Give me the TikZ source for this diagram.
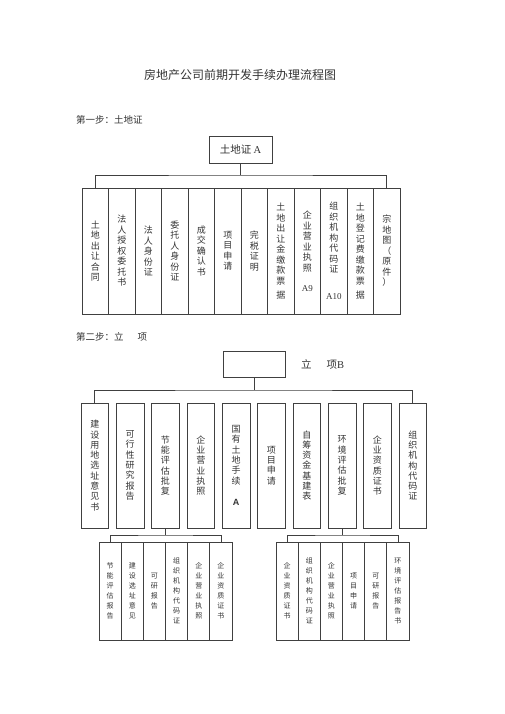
\documentclass[tikz,border=0pt]{standalone}
\usepackage{fontspec}
\setmainfont{Noto Sans CJK SC}
\newfontfamily\latn{Liberation Serif}
\newfontfamily\lsans{Liberation Sans}
\usetikzlibrary{shadows}

\tikzset{
    box/.style={draw=black!75, line width=0.7pt, inner sep=0pt, align=center, text=black!80},
    colA/.style={box, minimum width=26.5pt, minimum height=126pt, font=\fontsize{9}{10.5}\selectfont},
    colB/.style={box, minimum width=27.5pt, minimum height=125pt, font=\fontsize{9}{10.3}\selectfont},
    colC/.style={box, minimum width=22.17pt, minimum height=98pt, font=\fontsize{7}{10}\selectfont},
    headbox/.style={box, fill=white, drop shadow={shadow xshift=0.8pt, shadow yshift=-0.8pt, fill=black!75, opacity=1}},
    link/.style={draw=black!75, line width=0.7pt},
    caption/.style={text=black!80, inner sep=0pt}
}

\begin{document}
\begin{tikzpicture}[x=1pt,y=-1pt]
        \useasboundingbox (0,0) rectangle (505,714);

            % Title and step labels
            \node[caption, font=\fontsize{12}{12}\selectfont] (title) at (240,75) {房地产公司前期开发手续办理流程图};
            \node[caption, anchor=west, font=\fontsize{9.5}{10}\selectfont] (step1) at (76,120) {第一步：土地证};
            \node[caption, anchor=west, font=\fontsize{9.5}{10}\selectfont] (step2) at (76,337) {第二步：立\hspace{14pt}项};

            % Step 1 head
            \node[headbox, minimum width=63pt, minimum height=27pt, font=\fontsize{10.5}{11}\selectfont] (hA) at (240.5,149.5) {土地证 {\latn A}};

            % Step 1 documents
            \node[colA] (a1) at (95.25,251) {土\\地\\出\\让\\合\\同};
            \node[colA] (a2) at (121.75,251) {法\\人\\授\\权\\委\\托\\书};
            \node[colA] (a3) at (148.25,251) {法\\人\\身\\份\\证};
            \node[colA] (a4) at (174.75,251) {委\\托\\人\\身\\份\\证};
            \node[colA] (a5) at (201.25,251) {成\\交\\确\\认\\书};
            \node[colA] (a6) at (227.75,251) {项\\目\\申\\请};
            \node[colA] (a7) at (254.25,251) {完\\税\\证\\明};
            \node[colA] (a8) at (280.75,251) {土\\地\\出\\让\\金\\缴\\款\\票\\[3.5pt]据};
            \node[colA] (a9) at (307.25,251) {企\\业\\营\\业\\执\\照\\[9.5pt]{\latn A9}};
            \node[colA] (a10) at (333.75,251) {组\\织\\机\\构\\代\\码\\证\\[16pt]{\latn A10}};
            \node[colA] (a11) at (360.25,251) {土\\地\\登\\记\\费\\缴\\款\\票\\[3.5pt]据};
            \node[colA] (a12) at (386.75,251) {宗\\地\\图\\（\\原\\件\\）};

            % Step 1 links
            \coordinate (busA) at (240.5,175);
            \draw[link] (hA.south) -- (busA);
            \draw[link] (a1.north) |- (busA) -| (a12.north);

            % Step 2 head
            \node[headbox, minimum width=62pt, minimum height=26pt] (hB) at (254,364) {};
            \node[caption, anchor=west, font=\fontsize{10.5}{11}\selectfont] (lbB) at (301,364) {立\hspace{15pt}项{\latn B}};

            % Step 2 documents
            \node[colB] (b1) at (94.75,465.5) {建\\设\\用\\地\\选\\址\\意\\见\\书};
            \node[colB] (b2) at (130.1,465.5) {可\\行\\性\\研\\究\\报\\告};
            \node[colB] (b3) at (165.4,465.5) {节\\能\\评\\估\\批\\复};
            \node[colB] (b4) at (200.75,465.5) {企\\业\\营\\业\\执\\照};
            \node[colB] (b5) at (236.1,465.5) {国\\有\\土\\地\\手\\续\\[11pt]{\lsans\bfseries A}};
            \node[colB] (b6) at (271.4,465.5) {项\\目\\申\\请};
            \node[colB] (b7) at (306.75,465.5) {自\\筹\\资\\金\\基\\建\\表};
            \node[colB] (b8) at (342.1,465.5) {环\\境\\评\\估\\批\\复};
            \node[colB] (b9) at (377.4,465.5) {企\\业\\资\\质\\证\\书};
            \node[colB] (b10) at (412.75,465.5) {组\\织\\机\\构\\代\\码\\证};

            % Step 2 links
            \coordinate (busB) at (254,390);
            \draw[link] (hB.south) -- (busB);
            \draw[link] (b1.north) |- (busB) -| (b10.north);

            % Energy approval documents
            \node[colC] (c1) at (110.1,591) {节\\能\\评\\估\\报\\告};
            \node[colC] (c2) at (132.25,591) {建\\设\\选\\址\\意\\见};
            \node[colC] (c3) at (154.4,591) {可\\研\\报\\告};
            \node[colC] (c4) at (176.6,591) {组\\织\\机\\构\\代\\码\\证};
            \node[colC] (c5) at (198.75,591) {企\\业\\营\\业\\执\\照};
            \node[colC] (c6) at (220.9,591) {企\\业\\资\\质\\证\\书};

            % Environment approval documents
            \node[colC] (d1) at (287.1,591) {企\\业\\资\\质\\证\\书};
            \node[colC] (d2) at (309.25,591) {组\\织\\机\\构\\代\\码\\证};
            \node[colC] (d3) at (331.4,591) {企\\业\\营\\业\\执\\照};
            \node[colC] (d4) at (353.6,591) {项\\目\\申\\请};
            \node[colC] (d5) at (375.75,591) {可\\研\\报\\告};
            \node[colC] (d6) at (397.9,591) {环\\境\\评\\估\\报\\告\\书};

            % Sub links
            \coordinate (busC) at (165.4,535);
            \coordinate (busD) at (342.1,535);
            \draw[link] (b3.south) -- (busC);
            \draw[link] (c1.north) |- (busC) -| (c6.north);
            \draw[link] (b8.south) -- (busD);
            \draw[link] (d1.north) |- (busD) -| (d6.north);

        \end{tikzpicture}
\end{document}
